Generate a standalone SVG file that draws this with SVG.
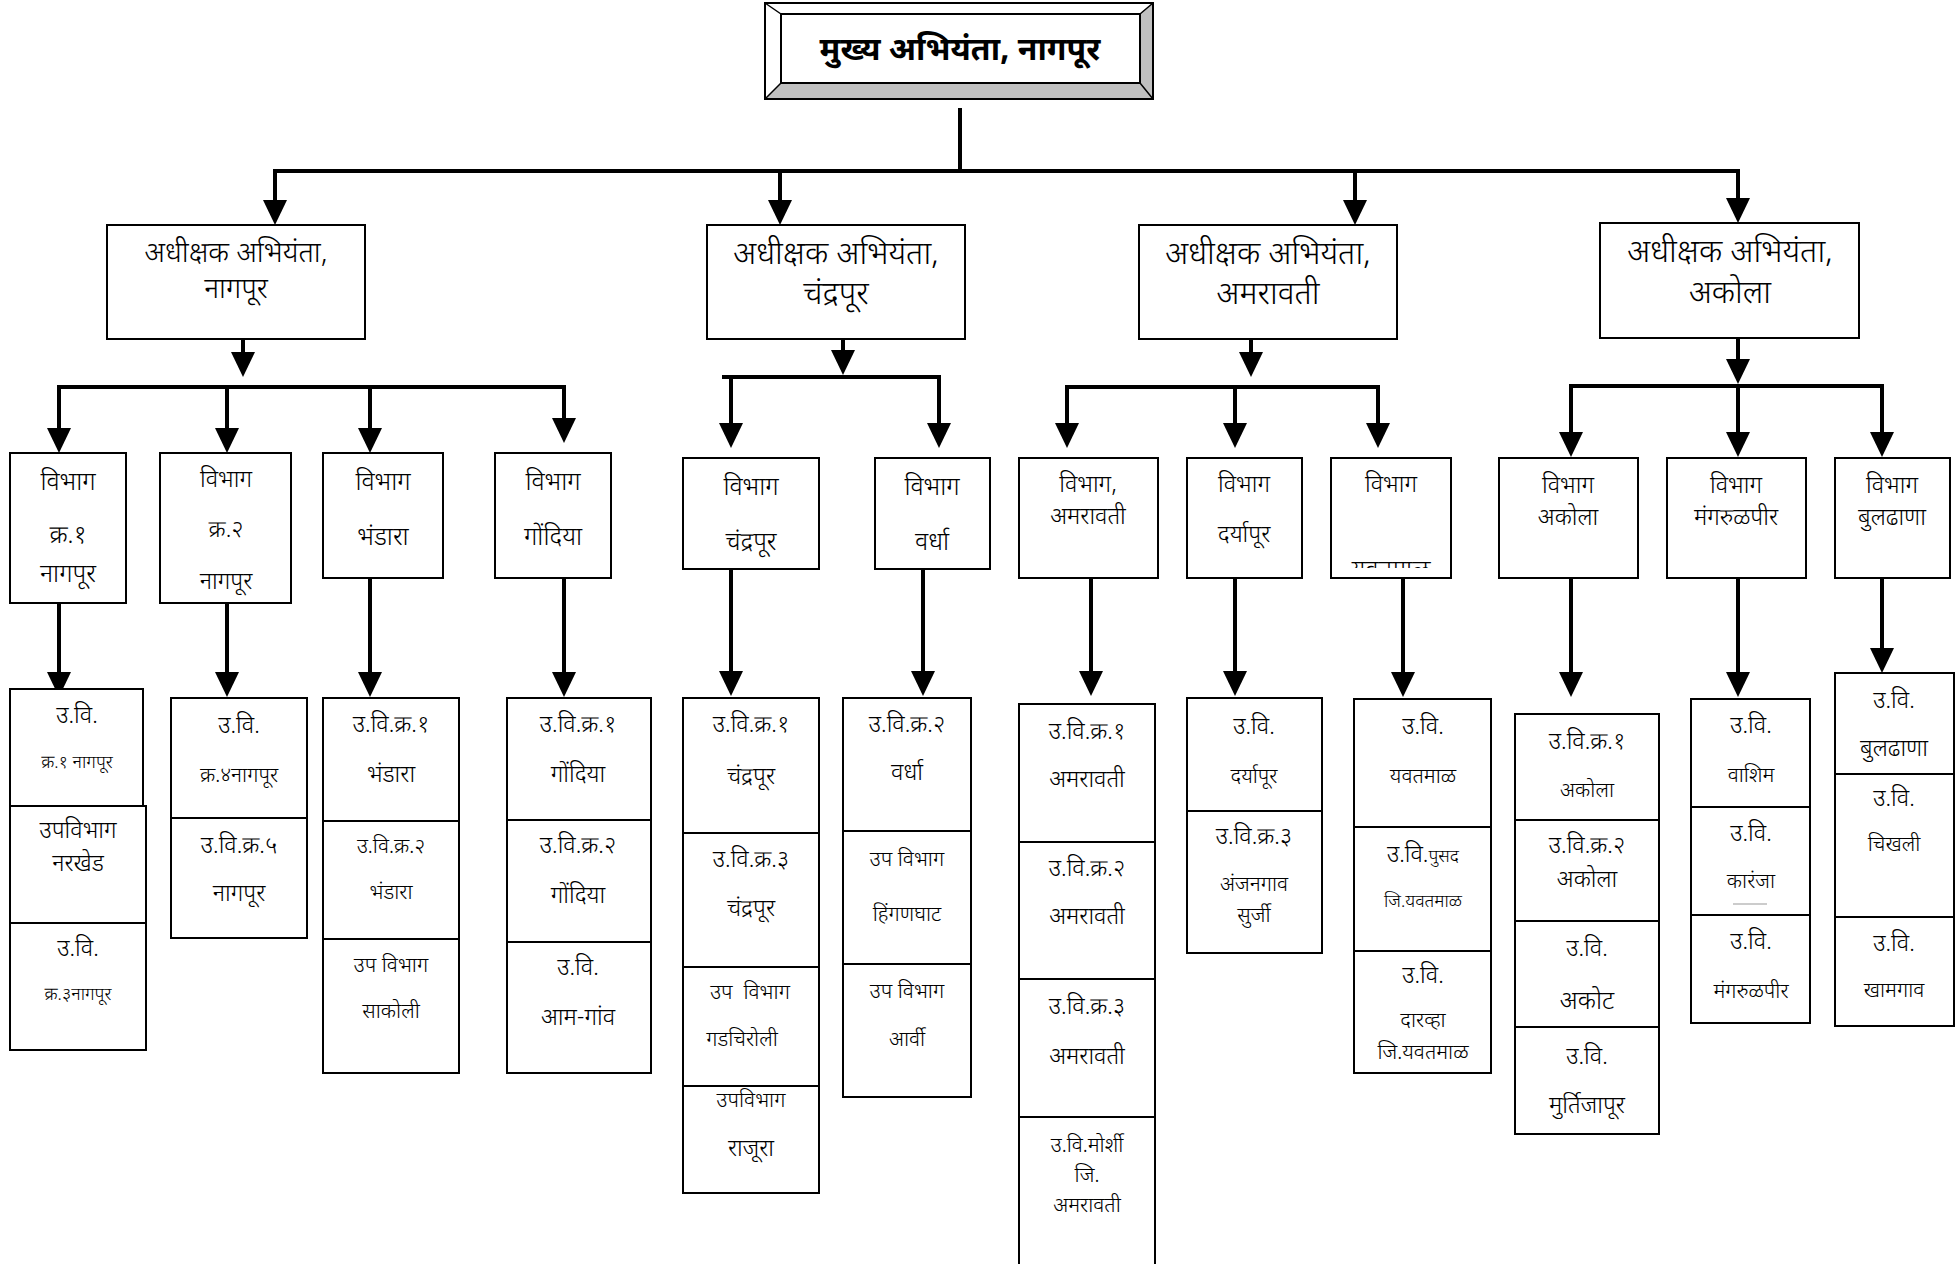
<svg xmlns="http://www.w3.org/2000/svg" width="1956" height="1264" viewBox="0 0 1956 1264">
<style>
.box{fill:#fff;stroke:#000;stroke-width:2}
.t{font-family:"Noto Sans Devanagari","Lohit Devanagari","Noto Serif Devanagari","Noto Sans",sans-serif;text-anchor:middle;fill:#000;font-weight:300}
.s30{font-size:32px}.s27{font-size:28.5px}.s24{font-size:25px}.s22{font-size:23.5px}.s20{font-size:21px}.s17{font-size:18px}
.ln{stroke:#000;stroke-width:4;fill:none}
.ar{marker-end:url(#arr)}
</style>
<defs>
<marker id="arr" markerUnits="userSpaceOnUse" markerWidth="25" markerHeight="24" viewBox="0 0 25 24" refX="13" refY="12" orient="auto"><path d="M0,0 L25,12 L0,24 Z" fill="#000"/></marker>
<clipPath id="clipYa"><rect x="1331" y="458" width="120" height="110"/></clipPath>
</defs>
<rect width="1956" height="1264" fill="#fff"/>
<g id="connectors">
<line class="ln" x1="960" y1="108" x2="960" y2="171"/>
<line class="ln" x1="273" y1="171" x2="1740" y2="171"/>
<line class="ln ar" x1="275" y1="171" x2="275" y2="213"/>
<line class="ln ar" x1="780" y1="171" x2="780" y2="213"/>
<line class="ln ar" x1="1355" y1="171" x2="1355" y2="213"/>
<line class="ln ar" x1="1738" y1="171" x2="1738" y2="211"/>
<line class="ln ar" x1="243" y1="340" x2="243" y2="365"/>
<line class="ln" x1="57" y1="387" x2="566" y2="387"/>
<line class="ln ar" x1="59" y1="387" x2="59" y2="441"/>
<line class="ln ar" x1="227" y1="387" x2="227" y2="441"/>
<line class="ln ar" x1="370" y1="387" x2="370" y2="441"/>
<line class="ln ar" x1="564" y1="387" x2="564" y2="431"/>
<line class="ln ar" x1="843" y1="340" x2="843" y2="363"/>
<line class="ln" x1="722" y1="377" x2="941" y2="377"/>
<line class="ln ar" x1="731" y1="377" x2="731" y2="436"/>
<line class="ln ar" x1="939" y1="377" x2="939" y2="436"/>
<line class="ln ar" x1="1251" y1="340" x2="1251" y2="365"/>
<line class="ln" x1="1065" y1="387" x2="1380" y2="387"/>
<line class="ln ar" x1="1067" y1="387" x2="1067" y2="436"/>
<line class="ln ar" x1="1235" y1="387" x2="1235" y2="436"/>
<line class="ln ar" x1="1378" y1="387" x2="1378" y2="436"/>
<line class="ln ar" x1="1738" y1="339" x2="1738" y2="372"/>
<line class="ln" x1="1569" y1="386" x2="1884" y2="386"/>
<line class="ln ar" x1="1571" y1="386" x2="1571" y2="445"/>
<line class="ln ar" x1="1738" y1="386" x2="1738" y2="445"/>
<line class="ln ar" x1="1882" y1="386" x2="1882" y2="445"/>
<line class="ln ar" x1="59" y1="603" x2="59" y2="685"/>
<line class="ln ar" x1="227" y1="603" x2="227" y2="685"/>
<line class="ln ar" x1="370" y1="578" x2="370" y2="685"/>
<line class="ln ar" x1="564" y1="578" x2="564" y2="685"/>
<line class="ln ar" x1="731" y1="555" x2="731" y2="684"/>
<line class="ln ar" x1="923" y1="555" x2="923" y2="684"/>
<line class="ln ar" x1="1091" y1="578" x2="1091" y2="684"/>
<line class="ln ar" x1="1235" y1="578" x2="1235" y2="684"/>
<line class="ln ar" x1="1403" y1="578" x2="1403" y2="685"/>
<line class="ln ar" x1="1571" y1="578" x2="1571" y2="685"/>
<line class="ln ar" x1="1738" y1="578" x2="1738" y2="685"/>
<line class="ln ar" x1="1882" y1="578" x2="1882" y2="661"/>
</g>
<g id="chief">
<rect x="765" y="3" width="388" height="96" fill="#fff" stroke="#000" stroke-width="2"/>
<polygon points="1153,3 1153,99 1140,83 1140,14" fill="#c0c0c0"/>
<polygon points="765,99 1153,99 1140,83 781,83" fill="#c0c0c0"/>
<path d="M765,3 L781,14 M1153,3 L1140,14 M765,99 L781,83 M1153,99 L1140,83" stroke="#000" stroke-width="1.5"/>
<rect x="765" y="3" width="388" height="96" fill="none" stroke="#000" stroke-width="2"/>
<rect x="781" y="14" width="359" height="69" fill="#fff" stroke="#000" stroke-width="2"/>
<text class="t" x="960" y="60" font-size="32" style="font-weight:bold">मुख्य अभियंता, नागपूर</text>
</g>
<g id="aa-nagpur"><rect class="box" x="107" y="225" width="258" height="114"/><text class="t s27" x="236" y="262">अधीक्षक अभियंता,</text><text class="t s27" x="236" y="298">नागपूर</text></g>
<g id="aa-chandrapur"><rect class="box" x="707" y="225" width="258" height="114"/><text class="t s30" x="836" y="264">अधीक्षक अभियंता,</text><text class="t s30" x="836" y="304">चंद्रपूर</text></g>
<g id="aa-amravati"><rect class="box" x="1139" y="225" width="258" height="114"/><text class="t s30" x="1268" y="264">अधीक्षक अभियंता,</text><text class="t s30" x="1268" y="304">अमरावती</text></g>
<g id="aa-akola"><rect class="box" x="1600" y="223" width="259" height="115"/><text class="t s30" x="1730" y="262">अधीक्षक अभियंता,</text><text class="t s30" x="1730" y="303">अकोला</text></g>
<g id="v-nagpur1"><rect class="box" x="10" y="453" width="116" height="150"/><text class="t s24" x="68" y="490">विभाग</text><text class="t s24" x="68" y="543">क्र.१</text><text class="t s24" x="68" y="582">नागपूर</text></g>
<g id="v-nagpur2"><rect class="box" x="160" y="453" width="131" height="150"/><text class="t s22" x="226" y="487">विभाग</text><text class="t s22" x="226" y="537">क्र.२</text><text class="t s22" x="226" y="589">नागपूर</text></g>
<g id="v-bhandara"><rect class="box" x="323" y="453" width="120" height="125"/><text class="t s24" x="383" y="490">विभाग</text><text class="t s24" x="383" y="545">भंडारा</text></g>
<g id="v-gondiya"><rect class="box" x="495" y="453" width="116" height="125"/><text class="t s24" x="553" y="490">विभाग</text><text class="t s24" x="553" y="545">गोंदिया</text></g>
<g id="v-chandrapur"><rect class="box" x="683" y="458" width="136" height="111"/><text class="t s24" x="751" y="495">विभाग</text><text class="t s24" x="751" y="550">चंद्रपूर</text></g>
<g id="v-wardha"><rect class="box" x="875" y="458" width="115" height="111"/><text class="t s24" x="932" y="495">विभाग</text><text class="t s24" x="932" y="550">वर्धा</text></g>
<g id="v-amravati"><rect class="box" x="1019" y="458" width="139" height="120"/><text class="t s22" x="1088" y="492">विभाग,</text><text class="t s22" x="1088" y="524">अमरावती</text></g>
<g id="v-daryapur"><rect class="box" x="1187" y="458" width="115" height="120"/><text class="t s22" x="1244" y="492">विभाग</text><text class="t s22" x="1244" y="542">दर्यापूर</text></g>
<g id="v-yavatmal"><rect class="box" x="1331" y="458" width="120" height="120"/><text class="t s22" x="1391" y="492">विभाग</text><text class="t s24" x="1391" y="578" clip-path="url(#clipYa)">यवतमाळ</text></g>
<g id="v-akola"><rect class="box" x="1499" y="458" width="139" height="120"/><text class="t s22" x="1568" y="493">विभाग</text><text class="t s22" x="1568" y="525">अकोला</text></g>
<g id="v-mangrulpir"><rect class="box" x="1667" y="458" width="139" height="120"/><text class="t s22" x="1736" y="493">विभाग</text><text class="t s22" x="1736" y="525">मंगरुळपीर</text></g>
<g id="v-buldhana"><rect class="box" x="1835" y="458" width="115" height="120"/><text class="t s22" x="1892" y="493">विभाग</text><text class="t s22" x="1892" y="525">बुलढाणा</text></g>

<g id="s-nagpur1"><rect class="box" x="10" y="689" width="133" height="117"/><text class="t s22" x="77" y="723">उ.वि.</text><text class="t s17" x="77" y="768">क्र.१ नागपूर</text></g>
<g id="s-narkhed"><rect class="box" x="10" y="806" width="136" height="117"/><text class="t s22" x="78" y="838">उपविभाग</text><text class="t s22" x="78" y="871">नरखेड</text></g>
<g id="s-nagpur3"><rect class="box" x="10" y="923" width="136" height="127"/><text class="t s22" x="78" y="956">उ.वि.</text><text class="t s17" x="78" y="1000">क्र.३नागपूर</text></g>
<g id="s-nagpur4"><rect class="box" x="171" y="698" width="136" height="120"/><text class="t s22" x="239" y="733">उ.वि.</text><text class="t s20" x="239" y="782">क्र.४नागपूर</text></g>
<g id="s-nagpur5"><rect class="box" x="171" y="818" width="136" height="120"/><text class="t s22" x="239" y="853">उ.वि.क्र.५</text><text class="t s22" x="239" y="901">नागपूर</text></g>
<g id="s-bhandara1"><rect class="box" x="323" y="698" width="136" height="123"/><text class="t s22" x="391" y="732">उ.वि.क्र.१</text><text class="t s22" x="391" y="782">भंडारा</text></g>
<g id="s-bhandara2"><rect class="box" x="323" y="821" width="136" height="118"/><text class="t s20" x="391" y="853">उ.वि.क्र.२</text><text class="t s20" x="391" y="899">भंडारा</text></g>
<g id="s-sakoli"><rect class="box" x="323" y="939" width="136" height="134"/><text class="t s20" x="391" y="972">उप विभाग</text><text class="t s20" x="391" y="1018">साकोली</text></g>
<g id="s-gondiya1"><rect class="box" x="507" y="698" width="144" height="122"/><text class="t s22" x="578" y="732">उ.वि.क्र.१</text><text class="t s22" x="578" y="782">गोंदिया</text></g>
<g id="s-gondiya2"><rect class="box" x="507" y="820" width="144" height="122"/><text class="t s22" x="578" y="853">उ.वि.क्र.२</text><text class="t s22" x="578" y="903">गोंदिया</text></g>
<g id="s-amgaon"><rect class="box" x="507" y="942" width="144" height="131"/><text class="t s22" x="578" y="975">उ.वि.</text><text class="t s22" x="578" y="1025">आम-गांव</text></g>
<g id="s-chandrapur1"><rect class="box" x="683" y="698" width="136" height="135"/><text class="t s22" x="751" y="732">उ.वि.क्र.१</text><text class="t s22" x="751" y="784">चंद्रपूर</text></g>
<g id="s-chandrapur3"><rect class="box" x="683" y="833" width="136" height="134"/><text class="t s22" x="751" y="867">उ.वि.क्र.३</text><text class="t s22" x="751" y="916">चंद्रपूर</text></g>
<g id="s-gadchiroli"><rect class="box" x="683" y="967" width="136" height="119"/><text class="t s20" x="750" y="999" xml:space="preserve">उप  विभाग</text><text class="t s20" x="742" y="1046">गडचिरोली</text></g>
<g id="s-rajura"><rect class="box" x="683" y="1086" width="136" height="107"/><text class="t s20" x="751" y="1107">उपविभाग</text><text class="t s22" x="751" y="1156">राजूरा</text></g>
<g id="s-wardha2"><rect class="box" x="843" y="698" width="128" height="133"/><text class="t s22" x="907" y="732">उ.वि.क्र.२</text><text class="t s22" x="907" y="780">वर्धा</text></g>
<g id="s-hinganghat"><rect class="box" x="843" y="831" width="128" height="133"/><text class="t s20" x="907" y="866">उप विभाग</text><text class="t s20" x="907" y="921">हिंगणघाट</text></g>
<g id="s-arvi"><rect class="box" x="843" y="964" width="128" height="133"/><text class="t s20" x="907" y="998">उप विभाग</text><text class="t s20" x="907" y="1046">आर्वी</text></g>
<g id="s-amravati1"><rect class="box" x="1019" y="704" width="136" height="138"/><text class="t s22" x="1087" y="739">उ.वि.क्र.१</text><text class="t s22" x="1087" y="787">अमरावती</text></g>
<g id="s-amravati2"><rect class="box" x="1019" y="842" width="136" height="137"/><text class="t s22" x="1087" y="876">उ.वि.क्र.२</text><text class="t s22" x="1087" y="924">अमरावती</text></g>
<g id="s-amravati3"><rect class="box" x="1019" y="979" width="136" height="138"/><text class="t s22" x="1087" y="1014">उ.वि.क्र.३</text><text class="t s22" x="1087" y="1064">अमरावती</text></g>
<g id="s-morshi"><rect class="box" x="1019" y="1117" width="136" height="153"/><text class="t s20" x="1087" y="1152">उ.वि.मोर्शी</text><text class="t s20" x="1087" y="1182">जि.</text><text class="t s20" x="1087" y="1212">अमरावती</text></g>
<g id="s-daryapur"><rect class="box" x="1187" y="698" width="135" height="113"/><text class="t s22" x="1254" y="734">उ.वि.</text><text class="t s20" x="1254" y="783">दर्यापूर</text></g>
<g id="s-anjangaon"><rect class="box" x="1187" y="811" width="135" height="142"/><text class="t s22" x="1254" y="844">उ.वि.क्र.३</text><text class="t s20" x="1254" y="891">अंजनगाव</text><text class="t s20" x="1254" y="922">सुर्जी</text></g>
<g id="s-yavatmal"><rect class="box" x="1354" y="699" width="137" height="128"/><text class="t s22" x="1423" y="734">उ.वि.</text><text class="t s20" x="1423" y="783">यवतमाळ</text></g>
<g id="s-pusad"><rect class="box" x="1354" y="827" width="137" height="124"/><text class="t s22" x="1423" y="862">उ.वि.<tspan class="s17">पुसद</tspan></text><text class="t s17" x="1423" y="907">जि.यवतमाळ</text></g>
<g id="s-darwha"><rect class="box" x="1354" y="951" width="137" height="122"/><text class="t s22" x="1423" y="983">उ.वि.</text><text class="t s20" x="1423" y="1027">दारव्हा</text><text class="t s20" x="1423" y="1059">जि.यवतमाळ</text></g>
<g id="s-akola1"><rect class="box" x="1515" y="714" width="144" height="106"/><text class="t s22" x="1587" y="749">उ.वि.क्र.१</text><text class="t s20" x="1587" y="797">अकोला</text></g>
<g id="s-akola2"><rect class="box" x="1515" y="820" width="144" height="101"/><text class="t s22" x="1587" y="853">उ.वि.क्र.२</text><text class="t s22" x="1587" y="887">अकोला</text></g>
<g id="s-akot"><rect class="box" x="1515" y="921" width="144" height="106"/><text class="t s22" x="1587" y="956">उ.वि.</text><text class="t s24" x="1587" y="1009">अकोट</text></g>
<g id="s-murtijapur"><rect class="box" x="1515" y="1027" width="144" height="107"/><text class="t s22" x="1587" y="1064">उ.वि.</text><text class="t s22" x="1587" y="1113">मुर्तिजापूर</text></g>
<g id="s-washim"><rect class="box" x="1691" y="699" width="119" height="108"/><text class="t s22" x="1751" y="733">उ.वि.</text><text class="t s20" x="1751" y="782">वाशिम</text></g>
<g id="s-karanja"><rect class="box" x="1691" y="807" width="119" height="108"/><text class="t s22" x="1751" y="841">उ.वि.</text><text class="t s20" x="1751" y="888">कारंजा</text><line x1="1733" y1="904" x2="1767" y2="904" stroke="#999" stroke-width="1"/></g>
<g id="s-mangrulpir"><rect class="box" x="1691" y="915" width="119" height="108"/><text class="t s22" x="1751" y="949">उ.वि.</text><text class="t s20" x="1751" y="998">मंगरुळपीर</text></g>
<g id="s-buldhana"><rect class="box" x="1835" y="673" width="119" height="101"/><text class="t s22" x="1894" y="708">उ.वि.</text><text class="t s22" x="1894" y="756">बुलढाणा</text></g>
<g id="s-chikhali"><rect class="box" x="1835" y="774" width="119" height="143"/><text class="t s22" x="1894" y="806">उ.वि.</text><text class="t s20" x="1894" y="851">चिखली</text></g>
<g id="s-khamgaon"><rect class="box" x="1835" y="917" width="119" height="109"/><text class="t s22" x="1894" y="951">उ.वि.</text><text class="t s20" x="1894" y="997">खामगाव</text></g>
</svg>
